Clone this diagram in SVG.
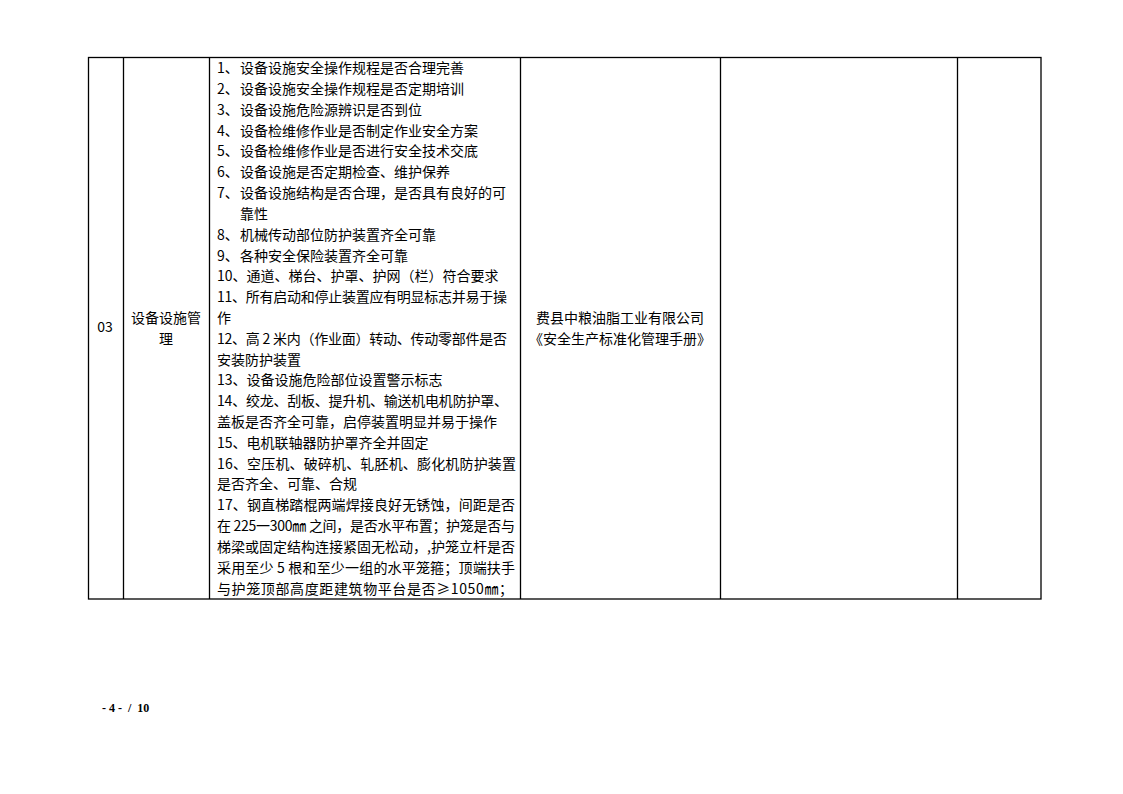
<svg xmlns="http://www.w3.org/2000/svg" width="1123" height="794" viewBox="0 0 1123 794">
<style>
.t{font-family:"Noto Sans CJK SC","Liberation Sans",sans-serif;font-size:14px;fill:#000}
.c{text-anchor:middle}
.ln{stroke:#000;stroke-width:1.3;fill:none}
.pg{font-family:"Liberation Serif",serif;font-size:12px;font-weight:bold;fill:#000}
</style>
<rect width="1123" height="794" fill="#fff"/>
<g id="table-grid">
<rect class="ln" x="88.5" y="57.5" width="952.5" height="541.5"/>
<line class="ln" x1="123.5" y1="57.5" x2="123.5" y2="599"/>
<line class="ln" x1="209.5" y1="57.5" x2="209.5" y2="599"/>
<line class="ln" x1="520.5" y1="57.5" x2="520.5" y2="599"/>
<line class="ln" x1="720.5" y1="57.5" x2="720.5" y2="599"/>
<line class="ln" x1="957.5" y1="57.5" x2="957.5" y2="599"/>
</g>
<g id="cell-no">
<text class="t c" x="105" y="332">03</text>
</g>
<g id="cell-item">
<text class="t c" x="166" y="323">设备设施管</text>
<text class="t c" x="166" y="344">理</text>
</g>
<g id="cell-content" class="t">
<text x="217" y="73">1、</text><text x="240" y="73">设备设施安全操作规程是否合理完善</text>
<text x="217" y="94">2、</text><text x="240" y="94">设备设施安全操作规程是否定期培训</text>
<text x="217" y="115">3、</text><text x="240" y="115">设备设施危险源辨识是否到位</text>
<text x="217" y="136">4、</text><text x="240" y="136">设备检维修作业是否制定作业安全方案</text>
<text x="217" y="156">5、</text><text x="240" y="156">设备检维修作业是否进行安全技术交底</text>
<text x="217" y="177">6、</text><text x="240" y="177">设备设施是否定期检查、维护保养</text>
<text x="217" y="198">7、</text><text x="240" y="198">设备设施结构是否合理，是否具有良好的可</text>
<text x="240" y="219">靠性</text>
<text x="217" y="240">8、</text><text x="240" y="240">机械传动部位防护装置齐全可靠</text>
<text x="217" y="261">9、</text><text x="240" y="261">各种安全保险装置齐全可靠</text>
<text x="217" y="281">10、通道、梯台、护罩、护网（栏）符合要求</text>
<text x="217" y="302" textLength="290" lengthAdjust="spacing">11、所有启动和停止装置应有明显标志并易于操</text>
<text x="217" y="323">作</text>
<text x="217" y="344" textLength="290" lengthAdjust="spacing">12、高 2 米内（作业面）转动、传动零部件是否</text>
<text x="217" y="365">安装防护装置</text>
<text x="217" y="385">13、设备设施危险部位设置警示标志</text>
<text x="217" y="406" textLength="291" lengthAdjust="spacing">14、绞龙、刮板、提升机、输送机电机防护罩、</text>
<text x="217" y="427">盖板是否齐全可靠，启停装置明显并易于操作</text>
<text x="217" y="448">15、电机联轴器防护罩齐全并固定</text>
<text x="217" y="469" textLength="299" lengthAdjust="spacing">16、空压机、破碎机、轧胚机、膨化机防护装置</text>
<text x="217" y="489">是否齐全、可靠、合规</text>
<text x="217" y="510" textLength="298" lengthAdjust="spacing">17、钢直梯踏棍两端焊接良好无锈蚀，间距是否</text>
<text x="217" y="531" textLength="298" lengthAdjust="spacing">在 225一300㎜ 之间，是否水平布置；护笼是否与</text>
<text x="217" y="552" textLength="298" lengthAdjust="spacing">梯梁或固定结构连接紧固无松动，,护笼立杆是否</text>
<text x="217" y="573" textLength="298" lengthAdjust="spacing">采用至少 5 根和至少一组的水平笼箍；顶端扶手</text>
<text x="217" y="594" textLength="296" lengthAdjust="spacing">与护笼顶部高度距建筑物平台是否≥1050㎜；</text>
</g>
<g id="cell-basis">
<text class="t c" x="620" y="323">费县中粮油脂工业有限公司</text>
<text class="t c" x="620" y="344">《安全生产标准化管理手册》</text>
</g>
<g id="footer">
<text class="pg" x="102" y="712" xml:space="preserve">- 4 -  /  10</text>
</g>
</svg>
